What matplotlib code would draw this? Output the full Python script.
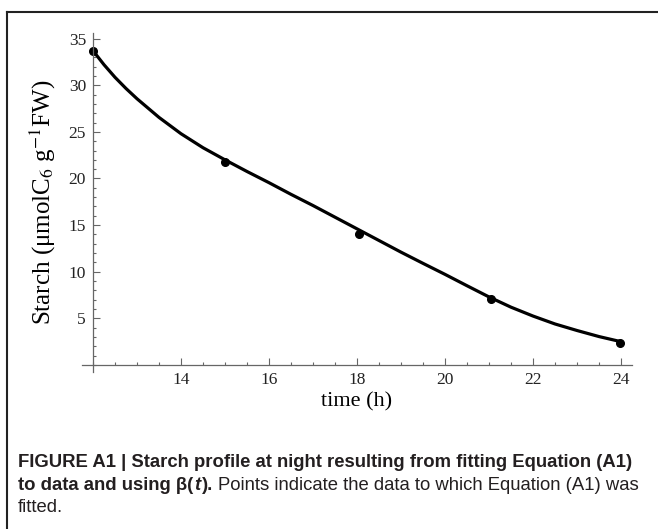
import numpy as np
import matplotlib
matplotlib.use("Agg")
import matplotlib.pyplot as plt
from matplotlib.lines import Line2D
from matplotlib.ticker import MultipleLocator

plt.rcParams['mathtext.fontset'] = 'stix'

# fitted curve (time in h, starch)
t_fit = [12, 12.25, 12.5, 12.75, 13, 13.5, 14, 14.5, 15, 15.5, 16, 16.5, 17,
         17.5, 18, 18.5, 19, 19.5, 20, 20.5, 21, 21.5, 22, 22.5, 23, 23.5, 24]
s_fit = [33.7, 32.2, 30.85, 29.65, 28.55, 26.55, 24.8, 23.3, 22.0, 20.75, 19.55,
         18.3, 17.1, 15.85, 14.6, 13.35, 12.1, 10.9, 9.72, 8.5, 7.3, 6.2,
         5.25, 4.4, 3.7, 3.05, 2.5]

# measured points
t_data = [12.0, 15.0, 18.05, 21.05, 23.98]
s_data = [33.7, 21.8, 14.0, 7.1, 2.4]

xticks = [14, 16, 18, 20, 22, 24]
yticks = [5, 10, 15, 20, 25, 30, 35]

W, H = 658, 529
fig = plt.figure(figsize=(W / 100, H / 100), dpi=100)
ax = fig.add_axes([82 / W, 1 - 372 / H, 550 / W, 339 / H])

ax.plot(t_fit, s_fit, color='black', lw=2.3, solid_capstyle='round')
ax.plot(t_data, s_data, 'o', color='black', ms=5.5)

ax.set_xlim(11.75, 24.25)
ax.set_ylim(-0.75, 35.6)
ax.spines['left'].set_position(('data', 12))
ax.spines['bottom'].set_position(('data', 0))
ax.spines['top'].set_visible(False)
ax.spines['right'].set_visible(False)
for sp in ('left', 'bottom'):
    ax.spines[sp].set_color('#666666')
    ax.spines[sp].set_linewidth(0.9)

ax.set_xticks(xticks)
ax.set_yticks(yticks)
ax.xaxis.set_minor_locator(MultipleLocator(0.5))
ax.yaxis.set_minor_locator(MultipleLocator(1))
ax.tick_params(which='both', direction='in', color='#666666', width=0.8,
               labelsize=12.5, labelcolor='#222222', labelfontfamily='Liberation Serif')
ax.tick_params(which='major', length=5, pad=5)
ax.tick_params(which='minor', length=2.5)

ax.set_xlabel('time (h)', fontsize=16, family='Liberation Serif', labelpad=3)
ax.set_ylabel('Starch (\u03bcmolC$_6$ g$^{-1}$FW)', fontsize=18,
              family='Liberation Serif', labelpad=8)

# frame around the figure panel
fig.add_artist(Line2D([7 / W, 1], [1 - 12 / H, 1 - 12 / H], color='#222222', lw=1.5))
fig.add_artist(Line2D([7 / W, 7 / W], [0, 1 - 12 / H], color='#222222', lw=1.5))

# caption
cap_font = 'Liberation Sans'
cs = 13.3
r = fig.canvas.get_renderer()


def put(x_px, y_px, s, **kw):
    t = fig.text(x_px / W, 1 - y_px / H, s, fontsize=cs, family=cap_font,
                 va='baseline', color='#231f20', **kw)
    bb = t.get_window_extent(renderer=r)
    return bb.x1


put(18, 467, 'FIGURE A1 | Starch profile at night resulting from fitting Equation (A1)',
    weight='bold')
x = put(18, 490, 'to data and using \u03b2(', weight='bold')
x = put(x + 1, 490, 't', weight='bold', style='italic')
x = put(x + 2, 490, ').', weight='bold')
put(x + 4, 490, 'Points indicate the data to which Equation (A1) was')
put(18, 512, 'fitted.')

fig.savefig('out.png', dpi=100)
